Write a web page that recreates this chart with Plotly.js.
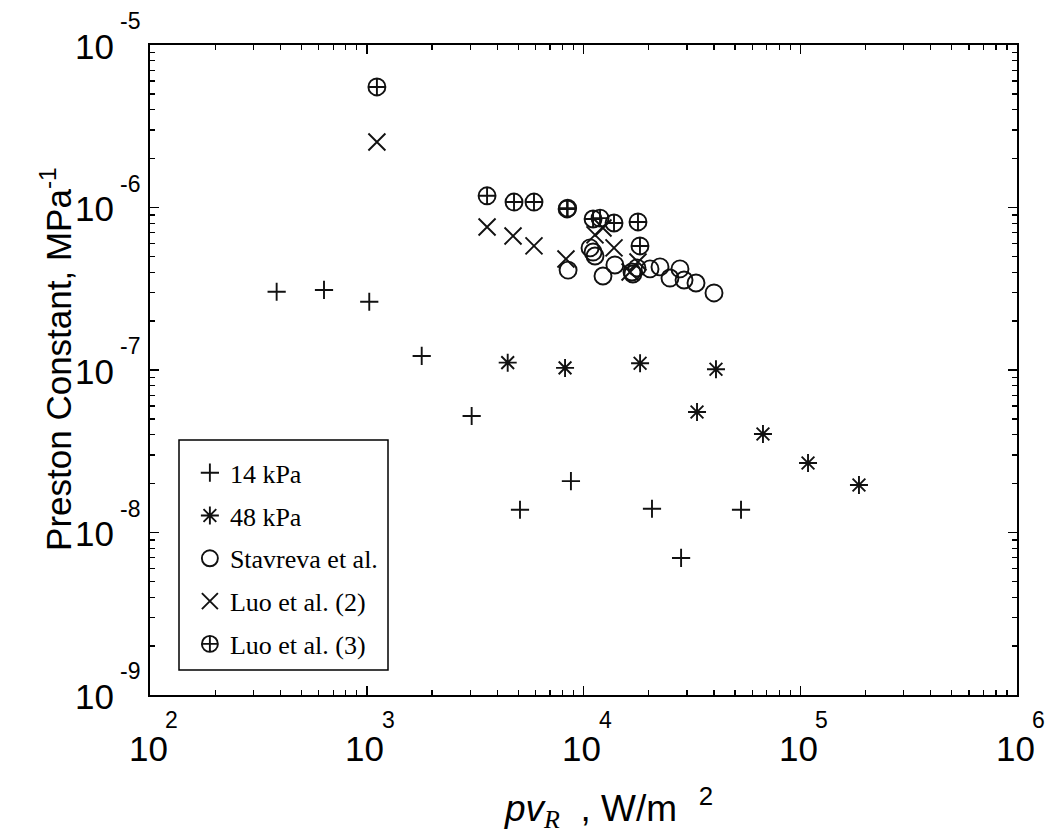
<!DOCTYPE html>
<html><head><meta charset="utf-8">
<script src="https://cdn.plot.ly/plotly-3.0.1.min.js"></script>
<style>body{margin:0;background:#fff}#chart{width:1049px;height:840px}</style>
</head><body><div id="chart"></div>
<script>
// ---- data ----
const seriesNames = ["14 kPa", "48 kPa", "Stavreva et al.", "Luo et al. (2)", "Luo et al. (3)"];

const x14 = [384, 635, 1027, 1793, 3048, 5093, 8750, 20700, 28200, 53300];
const y14 = [3.03e-7, 3.11e-7, 2.63e-7, 1.22e-7, 5.21e-8, 1.38e-8, 2.07e-8, 1.40e-8, 6.97e-9, 1.38e-8];

const x48 = [4470, 8220, 18240, 40850, 33400, 67300, 108600, 186600];
const y48 = [1.11e-7, 1.03e-7, 1.10e-7, 1.01e-7, 5.52e-8, 4.04e-8, 2.68e-8, 1.96e-8];

const xStav = [8490, 10720, 11070, 11300, 12300, 13960, 16740, 16900, 17650, 20270, 22540, 25060, 27870, 29100, 33040, 40000];
const yStav = [4.12e-7, 5.64e-7, 5.32e-7, 5.03e-7, 3.79e-7, 4.43e-7, 4.01e-7, 3.90e-7, 4.25e-7, 4.19e-7, 4.31e-7, 3.68e-7, 4.19e-7, 3.58e-7, 3.43e-7, 2.98e-7];

const xLuo2 = [1114, 3590, 4730, 5910, 8300, 11300, 12300, 13830, 17840, 16400];
const yLuo2 = [2.53e-6, 7.59e-7, 6.68e-7, 5.80e-7, 4.82e-7, 6.78e-7, 7.48e-7, 5.64e-7, 4.62e-7, 4.01e-7];

const xLuo3 = [1114, 3590, 4780, 5910, 8400, 8450, 11070, 11920, 13830, 17840, 18220];
const yLuo3 = [5.52e-6, 1.18e-6, 1.08e-6, 1.08e-6, 9.8e-7, 9.9e-7, 8.5e-7, 8.6e-7, 8.03e-7, 8.15e-7, 5.8e-7];

const xTickExp = [2, 3, 4, 5, 6];
const yTickExp = [-5, -6, -7, -8, -9];

// ---- styling ----
const INK = '#111';
const LW = 1.9;
function tr(x, y, name, symbol, size, g) {
  return {
    x: x, y: y, name: name, type: 'scatter', mode: 'markers',
    legendgroup: g,
    marker: { symbol: symbol, size: size, color: INK, line: { color: INK, width: LW } }
  };
}
const traces = [
  tr(x14, y14, seriesNames[0], 'cross-thin-open', 13, 'a'),
  tr(x48, y48, seriesNames[1], 'asterisk-open', 15, 'b'),
  tr(xStav, yStav, seriesNames[2], 'circle-open', 17, 'c'),
  tr(xLuo2, yLuo2, seriesNames[3], 'x-thin-open', 17, 'd'),
  tr(xLuo3, yLuo3, seriesNames[4], 'circle-cross-open', 17, 'e')
];

const SANS = 'Liberation Sans, Arial, sans-serif';
const numFont = { family: SANS, size: 35, color: '#000' };
const expFont = { family: SANS, size: 23, color: '#000' };
const annotations = [];
xTickExp.forEach(e => {
  annotations.push({ xref: 'x', yref: 'paper', x: e, y: 0, yshift: -53, xshift: -2, text: '10', showarrow: false, xanchor: 'center', yanchor: 'middle', font: numFont });
  annotations.push({ xref: 'x', yref: 'paper', x: e, y: 0, yshift: -25, xshift: 13, text: String(e), showarrow: false, xanchor: 'left', yanchor: 'middle', font: expFont });
});
yTickExp.forEach(e => {
  annotations.push({ xref: 'paper', yref: 'y', x: 0, y: e, xshift: -34, yshift: -1, text: '10', showarrow: false, xanchor: 'right', yanchor: 'middle', font: numFont });
  annotations.push({ xref: 'paper', yref: 'y', x: 0, y: e, xshift: -32, yshift: 24, text: String(e), showarrow: false, xanchor: 'left', yanchor: 'middle', font: expFont });
});
annotations.push({
  xref: 'paper', yref: 'paper', x: 0, y: 0.517, xshift: -94, textangle: -90,
  text: 'Preston Constant, MPa<sup>-1</sup>', showarrow: false, xanchor: 'center', yanchor: 'middle',
  font: { family: SANS, size: 35, color: '#000' }
});
annotations.push({
  xref: 'paper', yref: 'paper', x: 0, y: 0, xshift: 352, yshift: -113,
  text: '<i>pv</i><sub><span style="font-family:Liberation Serif"><i>R</i></span></sub>&nbsp;&nbsp;, W/m<sup>&nbsp;&nbsp;&nbsp;2</sup>',
  showarrow: false, xanchor: 'left', yanchor: 'middle',
  font: { family: SANS, size: 37, color: '#000' }
});

const axisCommon = {
  type: 'log', showgrid: false, zeroline: false,
  showline: true, linecolor: '#000', linewidth: 2, mirror: 'allticks',
  ticks: 'inside', ticklen: 9, tickwidth: 1.5, tickcolor: '#000',
  dtick: 1, showticklabels: false,
  minor: { ticks: 'inside', ticklen: 5, tickwidth: 1.2, tickcolor: '#000', dtick: 'D1', showgrid: false }
};

const layout = {
  width: 1049, height: 840,
  margin: { l: 150, r: 32, t: 45, b: 145 },
  paper_bgcolor: '#fff', plot_bgcolor: '#fff',
  showlegend: true,
  xaxis: Object.assign({}, axisCommon, { range: [2, 6] }),
  yaxis: Object.assign({}, axisCommon, { range: [-9, -5] }),
  legend: {
    x: 0.046, y: 0.378, xanchor: 'left', yanchor: 'top',
    bgcolor: 'rgba(0,0,0,0)', borderwidth: 0,
    font: { family: 'Liberation Serif, Times New Roman, serif', size: 26, color: '#000' },
    tracegroupgap: 6, traceorder: 'grouped', itemsizing: 'trace'
  },
  shapes: [{
    type: 'rect', xref: 'paper', yref: 'paper',
    x0: (179 - 150) / 867, x1: (388 - 150) / 867,
    y0: (695 - 670) / 650, y1: (695 - 440) / 650,
    line: { color: '#000', width: 1.5 }, fillcolor: 'rgba(0,0,0,0)'
  }],
  annotations: annotations
};

Plotly.newPlot('chart', traces, layout, { displayModeBar: false, staticPlot: true });
</script>
</body></html>
